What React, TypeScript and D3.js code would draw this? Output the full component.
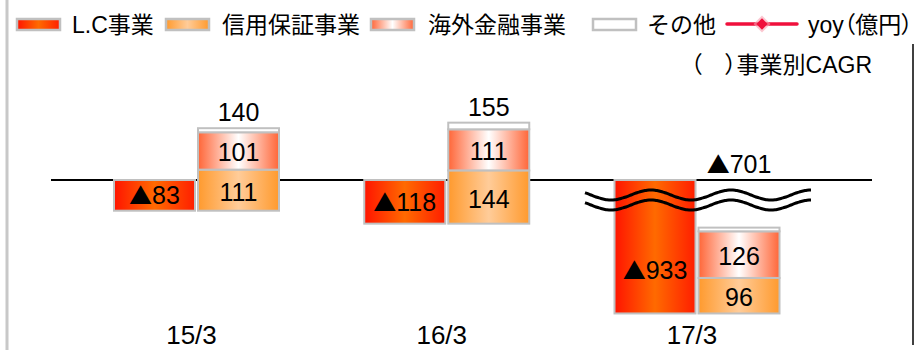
import React from "react";
import * as d3 from "d3";

const categories = ["15/3", "16/3", "17/3"];
const lcValues = [-83, -118, -933];
const guaranteeValues = [111, 144, 96];
const overseasValues = [101, 111, 126];
const otherValues = [11, 18, 10];
const totals = [140, 155, -701];
const axisBreak = [-700, -125]; // values hidden by the broken axis
const brokenCategory = "17/3";

const legendLabels = ["L.C事業", "信用保証事業", "海外金融事業", "その他", "yoy（億円）"];
const noteLabel = "（　）事業別CAGR";

const W = 922;
const H = 350;
const FONT = "'Liberation Sans', Arial, 'Noto Sans CJK JP', sans-serif";
const CJK = "'Noto Sans CJK JP', sans-serif";
const GREY = "#c0c0c0";

const k = 0.37;
const y0 = 180;
const yTopBreak = y0 - axisBreak[1] * k;
const yLowBreak = yTopBreak + 1;
const yScale = d3
  .scaleLinear()
  .domain([-940, axisBreak[0], axisBreak[1], 0, 170])
  .range([yLowBreak + (axisBreak[0] + 940) * k, yLowBreak, yTopBreak, y0, y0 - 170 * k]);

const xScale = d3.scalePoint<string>().domain(categories).range([196.5, 697]);

const Num = ({ v }: { v: number }) =>
  v < 0 ? (
    <>
      <tspan fontFamily={CJK} fontSize="0.92em">▲</tspan>
      <tspan>{Math.abs(v)}</tspan>
    </>
  ) : (
    <>{String(v)}</>
  );

const legendX = [17, 166, 371, 593];
const legendTextX = [72, 222, 428, 647];
const legendFills = ["url(#gLC)", "url(#gGua)", "url(#gOv)", "#ffffff"];

export default function App() {
  const barW = 81;
  const segs: JSX.Element[] = [];
  const labels: JSX.Element[] = [];

  categories.forEach((c, i) => {
    const cx = xScale(c)!;
    const lc = lcValues[i];
    const lx = cx - 1.5 - barW;
    const sx = cx + 1.5;
    segs.push(
      <rect key={"lc" + i} x={lx} y={yScale(0)} width={barW} height={yScale(lc) - yScale(0)}
        fill="url(#gLC)" stroke={GREY} strokeWidth={2} />
    );
    const lcMid = lc >= axisBreak[1]
      ? (yScale(0) + yScale(lc)) / 2
      : (yScale(lc) + yScale(axisBreak[1])) / 2;
    labels.push(
      <text key={"lct" + i} x={lx + barW / 2} y={lcMid} dy="0.36em" textAnchor="middle" fontSize={25}>
        <Num v={lc} />
      </text>
    );
    let base = lc;
    const parts = [
      { v: guaranteeValues[i], fill: "url(#gGua)", label: true },
      { v: overseasValues[i], fill: "url(#gOv)", label: true },
      { v: otherValues[i], fill: "#ffffff", label: false },
    ];
    parts.forEach((p, j) => {
      const top = base + p.v;
      const yT = yScale(top);
      const yB = yScale(base);
      segs.push(
        <rect key={`s${i}-${j}`} x={sx} y={yT} width={barW} height={yB - yT}
          fill={p.fill} stroke={GREY} strokeWidth={2} />
      );
      if (p.label) {
        labels.push(
          <text key={`st${i}-${j}`} x={sx + barW / 2} y={(yT + yB) / 2} dy="0.42em"
            textAnchor="middle" fontSize={25}>
            <Num v={p.v} />
          </text>
        );
      }
      base = top;
    });
    const tY = Math.min(yScale(Math.max(totals[i], 0)), yScale(0)) - 7;
    labels.push(
      <text key={"tot" + i} x={sx + barW / 2} y={tY} textAnchor="middle" fontSize={25}>
        <Num v={totals[i]} />
      </text>
    );
    labels.push(
      <text key={"cat" + i} x={cx - 5} y={344} textAnchor="middle" fontSize={26}>
        {c}
      </text>
    );
  });

  const bcx = xScale(brokenCategory)!;
  const waveX = d3.range(bcx - 112, bcx + 116, 2);
  const wave = (cy: number) =>
    d3.line<number>()
      .x((x) => x)
      .y((x) => cy - 5 * Math.sin((2 * Math.PI * (x - (bcx - 66))) / 80))
      .curve(d3.curveBasis)(waveX) as string;

  return (
    <svg width={W} height={H} style={{ position: "absolute", left: 0, top: 0, fontFamily: FONT }}>
      <defs>
        <linearGradient id="gLC" x1="0" x2="1" y1="0" y2="0">
          <stop offset="0" stopColor="#ff1400" />
          <stop offset="0.5" stopColor="#ff6a00" />
          <stop offset="1" stopColor="#ff1e00" />
        </linearGradient>
        <linearGradient id="gGua" x1="0" x2="1" y1="0" y2="0">
          <stop offset="0" stopColor="#ff9a2e" />
          <stop offset="0.5" stopColor="#ffcc99" />
          <stop offset="1" stopColor="#ff9a2e" />
        </linearGradient>
        <linearGradient id="gOv" x1="0" x2="1" y1="0" y2="0">
          <stop offset="0" stopColor="#ff6638" />
          <stop offset="0.5" stopColor="#ffffff" />
          <stop offset="1" stopColor="#ff6638" />
        </linearGradient>
      </defs>
      <rect x={0} y={0} width={W} height={H} fill="#ffffff" />
      <line x1={7} x2={7} y1={0} y2={H} stroke="#c8c8c8" strokeWidth={3} />
      <line x1={913} x2={913} y1={44} y2={345} stroke="#000" strokeWidth={1.5} />
      <line x1={51} x2={872} y1={yScale(0)} y2={yScale(0)} stroke="#000" strokeWidth={2} />
      {segs}
      <path d={wave(yScale(0) + 15)} fill="none" stroke="#000" strokeWidth={3} />
      <path d={wave(yScale(0) + 25)} fill="none" stroke="#000" strokeWidth={3} />
      {labels}
      {legendLabels.slice(0, 4).map((l, i) => (
        <g key={"lg" + i}>
          <rect x={legendX[i]} y={19} width={43} height={11} fill={legendFills[i]} stroke={GREY} strokeWidth={2.5} />
          <text x={legendTextX[i]} y={33} fontSize={23}>{l}</text>
        </g>
      ))}
      <line x1={727} x2={797} y1={24} y2={24} stroke="#f0103c" strokeWidth={3.5} strokeLinecap="round" />
      <rect x={762 - 6} y={24 - 6} width={12} height={12} fill="#f8a0b0" transform="rotate(45 762 24)" opacity={0.6} />
      <rect x={762 - 4} y={24 - 4} width={8} height={8} fill="#f0103c" transform="rotate(45 762 24)" />
      <text x={808} y={33} fontSize={23} style={{ fontFeatureSettings: '"palt"' }}>{legendLabels[4]}</text>
      <text x={872} y={73} fontSize={23} textAnchor="end" style={{ fontFeatureSettings: '"palt"' }}>{noteLabel}</text>
    </svg>
  );
}
